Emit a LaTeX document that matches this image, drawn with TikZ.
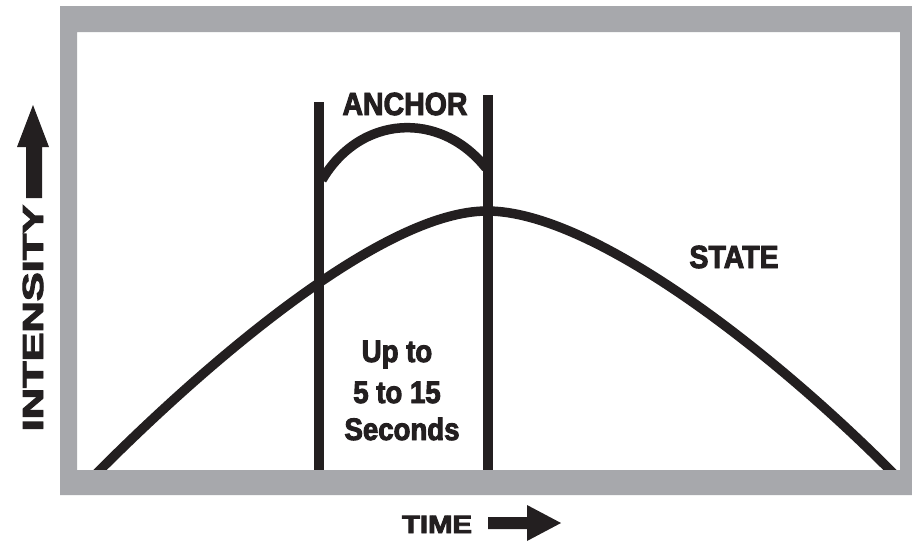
\documentclass[tikz,border=0pt]{standalone}
\usepackage{fontspec}
\newfontfamily\hv{Liberation Sans Bold}[FakeStretch=0.89,FakeBold=3]
\definecolor{framegray}{HTML}{A7A8AC}
\definecolor{ink}{HTML}{231F20}
\tikzset{
  curveline/.style={draw=ink, line width=9.5pt},
  label/.style={inner sep=0pt, text=ink, font=\hv\fontsize{32}{36}\selectfont, anchor=base},
  arrowshape/.style={fill=ink, draw=none}
}
\begin{document}
\begin{tikzpicture}[x=1pt,y=-1pt]
\useasboundingbox (0,0) rectangle (912,546);
\fill[white] (0,0) rectangle (912,546);
% state curve
\draw[curveline] (90,480) -- (100,470) .. controls (220,350) and (387,211) .. (487,211)
  .. controls (590,211) and (765,345) .. (890,470) -- (900,480);
% anchor arc and boundaries
\coordinate (lb) at (319,102);
\coordinate (lbb) at (319,475);
\coordinate (rb) at (488,95);
\coordinate (rbb) at (488,475);
\draw[curveline] (lb) -- (lbb);
\draw[curveline] (rb) -- (rbb);
\draw[curveline] (322,180) .. controls (360,115) and (440,110) .. (486,168);
% frame
\fill[framegray, even odd rule] (60,6) rectangle (915,495) (77,32) rectangle (900,470);
% labels
\node[label] (anchorlbl) at (405,115) {ANCHOR};
\node[label] (statelbl) at (734,268) {STATE};
\node[label, font=\hv\fontsize{31}{36}\selectfont] (dur1) at (397,362) {Up to};
\node[label, font=\hv\fontsize{31}{36}\selectfont] (dur2) at (397,403) {5 to 15};
\node[label, font=\hv\fontsize{31}{36}\selectfont] (dur3) at (402,440) {Seconds};
\node[label, font=\hv\fontsize{25}{30}\selectfont] (timelbl) at (437,533) {\scalebox{1.32}[1]{TIME}};
\node[label, font=\hv\fontsize{29}{34}\selectfont, rotate=90] (intlbl) at (43,318) {\scalebox{1.68}[1]{INTENSITY}};
% arrows
\fill[arrowshape] (26,198) -- (26,147) -- (17,147) -- (33,105) -- (49,147) -- (42,147) -- (42,198) -- cycle;
\fill[arrowshape] (488,517) -- (527,517) -- (527,505) -- (561,523) -- (527,541) -- (527,529) -- (488,529) -- cycle;
\end{tikzpicture}
\end{document}
